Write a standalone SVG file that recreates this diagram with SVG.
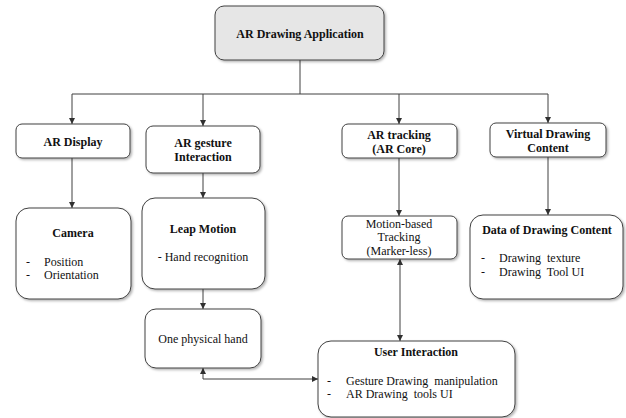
<svg xmlns="http://www.w3.org/2000/svg" width="626" height="418" viewBox="0 0 626 418">
<style>
.box{fill:#ffffff;stroke:#404040;stroke-width:1;filter:url(#sh)}
.top{fill:#e6e6e6}
.t{font-family:"Liberation Serif","Times New Roman",serif;font-size:12px;fill:#111111}
.b{font-weight:bold}
.c{text-anchor:middle}
.p{white-space:pre}
.ln{fill:none;stroke:#404040;stroke-width:1}
.ar{marker-end:url(#ah)}
.bi{marker-start:url(#ahs);marker-end:url(#ah)}
</style>
<defs>
<filter id="sh" x="-10%" y="-10%" width="130%" height="140%">
<feDropShadow dx="1.5" dy="1.5" stdDeviation="1" flood-color="#000" flood-opacity="0.3"/>
</filter>
<marker id="ah" markerUnits="userSpaceOnUse" markerWidth="7" markerHeight="7" refX="6" refY="3.5" orient="auto">
<path d="M0,0.5 L6,3.5 L0,6.5 Z" fill="#303030"/>
</marker>
<marker id="ahs" markerUnits="userSpaceOnUse" markerWidth="7" markerHeight="7" refX="0" refY="3.5" orient="auto">
<path d="M6,0.5 L0,3.5 L6,6.5 Z" fill="#303030"/>
</marker>
</defs>

<g id="connectors">
<path class="ln" d="M300,60 V94 M72,94 H548"/>
<path class="ln ar" d="M72,94 V124"/>
<path class="ln ar" d="M203,94 V126"/>
<path class="ln ar" d="M399,94 V124"/>
<path class="ln ar" d="M548,94 V123"/>
<path class="ln ar" d="M72,158 V208"/>
<path class="ln ar" d="M203,173 V198"/>
<path class="ln ar" d="M399,158 V216"/>
<path class="ln ar" d="M548,157 V215"/>
<path class="ln ar" d="M203,289 V309"/>
<path class="ln bi" d="M400,259 V341"/>
<path class="ln bi" d="M203,368 V379 H318"/>
</g>

<g id="ar-drawing-application">
<rect class="box top" x="215" y="6" width="169" height="54" rx="9"/>
<text class="t b c" x="300" y="38">AR Drawing Application</text>
</g>

<g id="ar-display">
<rect class="box" x="16" y="124" width="114" height="34" rx="6"/>
<text class="t b c" x="73" y="146">AR Display</text>
</g>

<g id="ar-gesture-interaction">
<rect class="box" x="146" y="126" width="114" height="47" rx="7"/>
<text class="t b c" x="203" y="147">AR gesture</text>
<text class="t b c" x="203" y="161">Interaction</text>
</g>

<g id="ar-tracking">
<rect class="box" x="342" y="124" width="115" height="34" rx="6"/>
<text class="t b c" x="399" y="139">AR tracking</text>
<text class="t b c" x="399" y="153">(AR Core)</text>
</g>

<g id="virtual-drawing-content">
<rect class="box" x="490" y="123" width="116" height="34" rx="6"/>
<text class="t b c" x="548" y="138">Virtual Drawing</text>
<text class="t b c" x="548" y="152">Content</text>
</g>

<g id="camera">
<rect class="box" x="16" y="208" width="115" height="91" rx="13"/>
<text class="t b c" x="73" y="237">Camera</text>
<text class="t" x="26" y="266">-</text>
<text class="t" x="44" y="266">Position</text>
<text class="t" x="26" y="279">-</text>
<text class="t" x="44" y="279">Orientation</text>
</g>

<g id="leap-motion">
<rect class="box" x="142" y="198" width="123" height="91" rx="13"/>
<text class="t b c" x="203" y="233">Leap Motion</text>
<text class="t c" x="203" y="261">- Hand recognition</text>
</g>

<g id="motion-based-tracking">
<rect class="box" x="342" y="216" width="115" height="43" rx="6"/>
<text class="t c" x="399" y="228">Motion-based</text>
<text class="t c" x="399" y="241">Tracking</text>
<text class="t c" x="399" y="255">(Marker-less)</text>
</g>

<g id="data-of-drawing-content">
<rect class="box" x="470" y="215" width="153" height="84" rx="13"/>
<text class="t b c" x="547" y="234">Data of Drawing Content</text>
<text class="t" x="481" y="262">-</text>
<text class="t p" x="499" y="262">Drawing  texture</text>
<text class="t" x="481" y="276">-</text>
<text class="t p" x="499" y="276">Drawing  Tool UI</text>
</g>

<g id="one-physical-hand">
<rect class="box" x="145" y="309" width="116" height="59" rx="11"/>
<text class="t c" x="203" y="343">One physical hand</text>
</g>

<g id="user-interaction">
<rect class="box" x="318" y="341" width="197" height="76" rx="13"/>
<text class="t b c" x="416" y="356">User Interaction</text>
<text class="t" x="327" y="385">-</text>
<text class="t p" x="346" y="385">Gesture Drawing  manipulation</text>
<text class="t" x="327" y="398">-</text>
<text class="t p" x="346" y="398">AR Drawing  tools UI</text>
</g>
</svg>
